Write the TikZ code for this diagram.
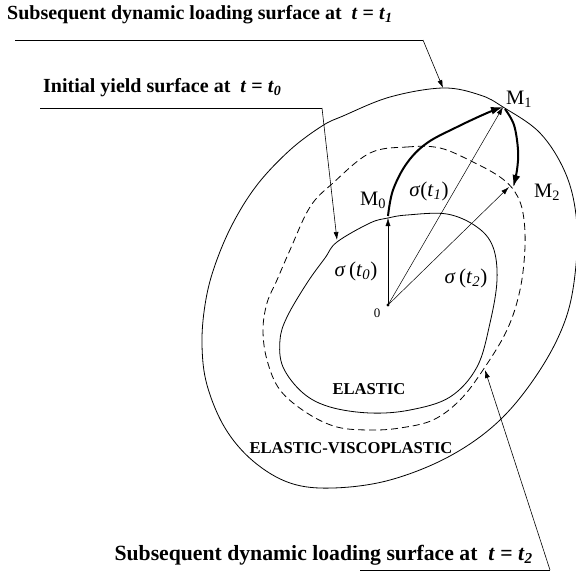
\documentclass[tikz,border=0pt]{standalone}
\usepackage{fontspec}
\setmainfont{Liberation Serif}
\usetikzlibrary{arrows.meta}
\newcommand{\sigl}[2][\,]{\textit{σ}#1(\textit{t}\textsubscript{\textit{#2}})}
\begin{document}
\begin{tikzpicture}[x=1pt,y=-1pt,
  curve/.style={line width=0.8pt},
  dashcurve/.style={line width=0.8pt,dash pattern=on 7pt off 4pt},
  leader/.style={line width=0.6pt},
  leaderarrow/.style={line width=0.6pt,-{Latex[length=8pt,width=5pt]}},
  thinarrow/.style={line width=0.5pt,-{Latex[length=8pt,width=5pt]}},
  thickarrow/.style={line width=2pt,-{Latex[length=12pt,width=8pt]}},
  title/.style={font=\bfseries, inner sep=0pt},
  region/.style={font=\bfseries\fontsize{16.6}{18}\selectfont, inner sep=0pt},
  pt/.style={font=\fontsize{21}{23}\selectfont, inner sep=0pt},
  mlabel/.style={font=\fontsize{20.5}{22}\selectfont, inner sep=0pt}]
\useasboundingbox (0,0) rectangle (576,573);

% outer surface (t = t1)
\draw[curve] plot[smooth cycle, tension=0.6] coordinates {
 (443,88) (480,95) (503,107) (540,133) (565,172) (576,215) (576,265) (566,318)
 (540,370) (500,420) (450,456) (390,480) (333,488) (290,483) (253,461) (225,428)
 (207,385) (202,345) (205,305) (214,268) (232,225) (257,185) (290,150) (322,126)
 (343,116) (390,97)};

% dashed surface (t = t2)
\draw[dashcurve] plot[smooth cycle, tension=0.6] coordinates {
 (370,153) (407,147) (440,148) (473,162) (500,177) (515,192) (523,213) (525,247)
 (520,290) (507,330) (483,370) (460,400) (433,420) (400,428) (370,430) (337,427)
 (307,413) (280,390) (267,360) (263,330) (267,303) (277,280) (290,250) (310,207)
 (333,183)};

% inner surface (t = t0)
\draw[curve] plot[smooth cycle, tension=0.6] coordinates {
 (337,242) (370,223) (388,218) (407,215) (447,214) (477,227) (493,247) (497,280)
 (490,323) (477,367) (450,397) (410,410) (370,413) (330,407) (303,393) (283,367)
 (280,340) (287,317) (307,283) (325,258)};

% points
\coordinate (O) at (388,305);
\coordinate (M0) at (388,218);
\coordinate (M1) at (503,107);
\coordinate (M2) at (509,187);
\fill (O) circle (1.6pt);
\node[font=\fontsize{13}{14}\selectfont, inner sep=0pt] (Olbl) at (377,313) {0};

% stress vectors
\draw[thinarrow] (O) -- (M0);
\draw[thinarrow] (O) -- (M1);
\draw[thinarrow] (O) -- (M2);

% loading paths
\draw[thickarrow] plot[smooth, tension=0.6] coordinates {
 (388,216) (393,190) (407,163) (427,143) (457,127) (487,113) (M1)};
\draw[thickarrow] plot[smooth, tension=0.6] coordinates {
 (505,109) (514,125) (518,150) (517,170) (513,187)};

% labels
\node[mlabel] (m0) at (373,200) {M\textsubscript{0}};
\node[mlabel] (m1) at (519,99) {M\textsubscript{1}};
\node[mlabel] (m2) at (547,192) {M\textsubscript{2}};
\node[pt] (s0) at (356,271) {\sigl{0}};
\node[pt] (s1) at (429,191) {\sigl[]{1}};
\node[pt] (s2) at (466,278) {\sigl{2}};
\node[region] (el) at (369,389) {ELASTIC};
\node[region] (evp) at (351,448) {ELASTIC-VISCOPLASTIC};

% titles and leaders
\node[title, font=\bfseries\fontsize{20}{22}\selectfont, anchor=west] (t1) at (7,15)
  {Subsequent dynamic loading surface at~ \textit{t} = \textit{t}\textsubscript{\textit{1}}};
\node[title, font=\bfseries\fontsize{20}{22}\selectfont, anchor=west] (t0) at (43,88)
  {Initial yield surface at~ \textit{t} = \textit{t}\textsubscript{\textit{0}}};
\node[title, font=\bfseries\fontsize{21.7}{24}\selectfont, anchor=east] (t2) at (533,555)
  {Subsequent dynamic loading surface at~ \textit{t} = \textit{t}\textsubscript{\textit{2}}};

\coordinate (a1s) at (15,40);
\coordinate (a1c) at (423,40);
\coordinate (a1e) at (443,88);
\draw[leader] (a1s) -- (a1c);
\draw[leaderarrow] (a1c) -- (a1e);

\coordinate (a0s) at (40,108);
\coordinate (a0c) at (322,108);
\coordinate (a0e) at (337,240);
\draw[leader] (a0s) -- (a0c);
\draw[leaderarrow] (a0c) -- (a0e);

\coordinate (a2s) at (360,570);
\coordinate (a2c) at (550,570);
\coordinate (a2e) at (485,370);
\draw[leader] (a2s) -- (a2c);
\draw[leaderarrow] (a2c) -- (a2e);
\end{tikzpicture}
\end{document}
